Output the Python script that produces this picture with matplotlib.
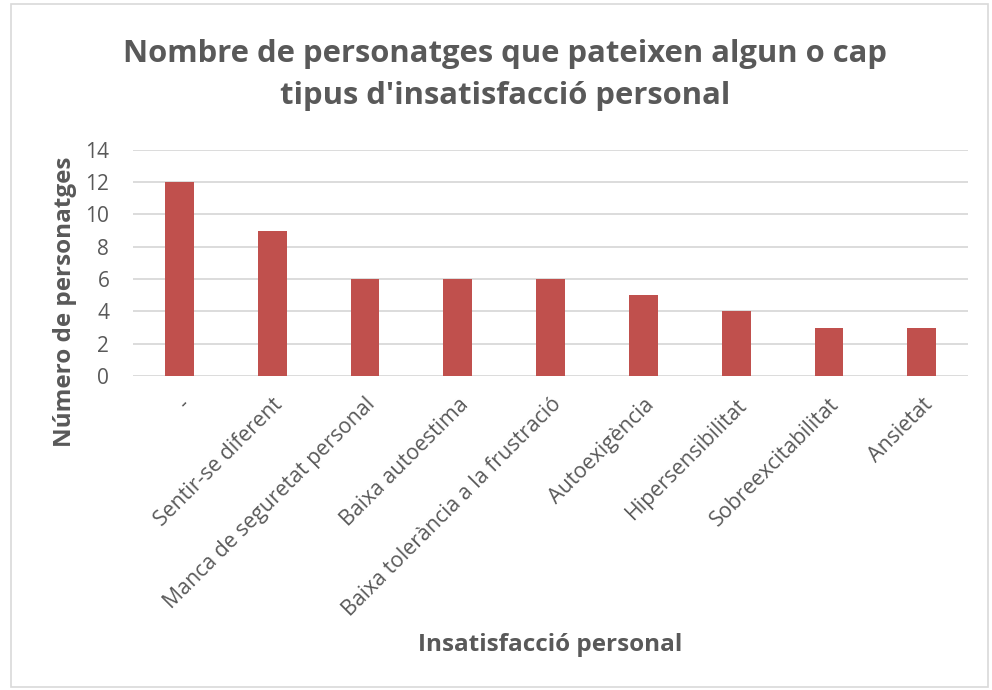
"""Gràfic de barres: insatisfacció personal dels personatges."""
import matplotlib.pyplot as plt
from matplotlib.patches import Rectangle

CATEGORIES = [
    "-",
    "Sentir-se diferent",
    "Manca de seguretat personal",
    "Baixa autoestima",
    "Baixa tolerància a la frustració",
    "Autoexigència",
    "Hipersensibilitat",
    "Sobreexcitabilitat",
    "Ansietat",
]
VALUES = [12, 9, 6, 6, 6, 5, 4, 3, 3]
Y_TICKS = [0, 2, 4, 6, 8, 10, 12, 14]

TITLE = "Nombre de personatges que pateixen algun o cap\ntipus d'insatisfacció personal"
XLABEL = "Insatisfacció personal"
YLABEL = "Número de personatges"

TEXT = "#595959"
BAR = "#c0504d"
GRID = "#d9d9d9"

plt.rcParams["font.family"] = ["Open Sans", "DejaVu Sans"]

fig = plt.figure(figsize=(9.92, 6.9), dpi=100)
ax = fig.add_axes([0.134, 0.455, 0.842, 0.328])

# marc del gràfic
fig.patches.append(Rectangle((0.011, 0.004), 0.985, 0.99, transform=fig.transFigure,
                             fill=False, edgecolor="#d9d9d9", linewidth=1.2))

x = range(len(CATEGORIES))
ax.bar(x, VALUES, width=0.31, color=BAR, zorder=3)

ax.set_xlim(-0.5, len(CATEGORIES) - 0.5)
ax.set_ylim(0, 14)
ax.set_yticks(Y_TICKS)
ax.set_xticks(list(x))
ax.set_xticklabels(CATEGORIES, rotation=45, ha="right", rotation_mode="anchor",
                   fontsize=15.3, color=TEXT)
ax.tick_params(axis="y", labelsize=15, labelcolor=TEXT, length=0, pad=17)
ax.tick_params(axis="x", length=0, pad=13)
ax.grid(axis="y", color=GRID, linewidth=1.3, zorder=0)
for s in ax.spines.values():
    s.set_visible(False)

fig.text(0.509, 0.891, TITLE, ha="center", va="center", fontsize=22.3,
         fontweight="bold", color=TEXT, linespacing=1.5)
fig.text(0.066, 0.562, YLABEL, ha="center", va="center", rotation=90,
         fontsize=17.5, fontweight="bold", color=TEXT)
fig.text(0.555, 0.065, XLABEL, ha="center", va="center", fontsize=17.5,
         fontweight="bold", color=TEXT)

fig.savefig("out.png", dpi=100)
